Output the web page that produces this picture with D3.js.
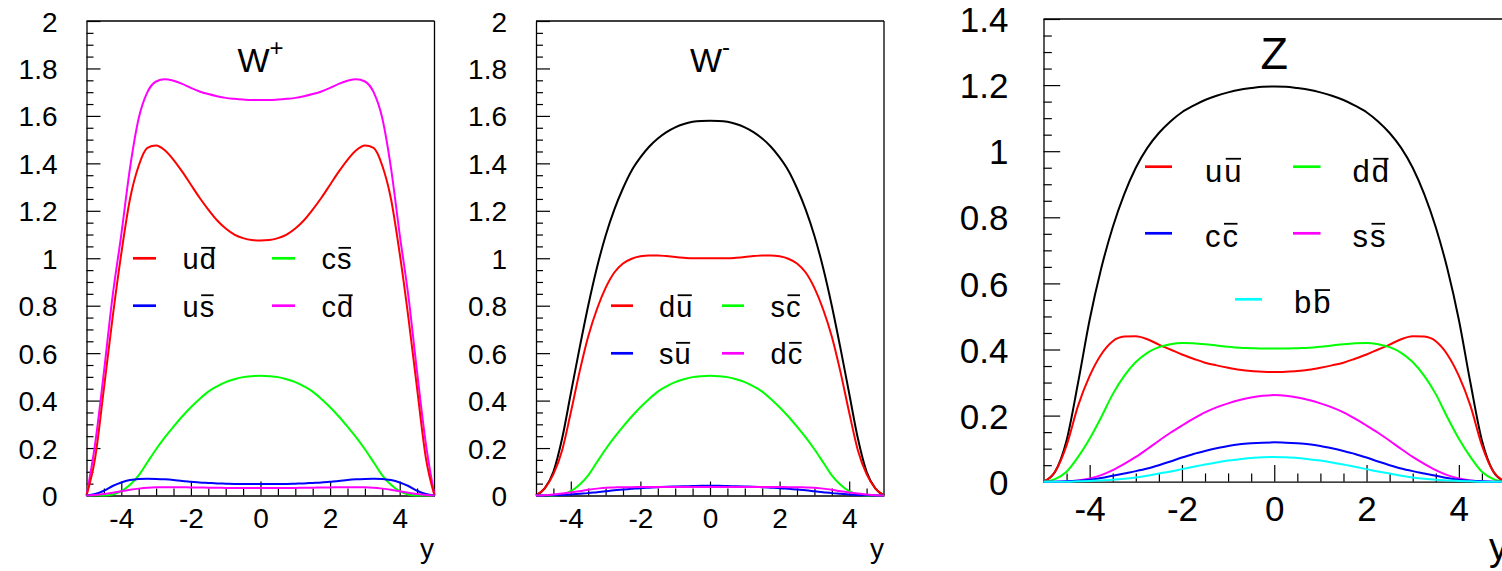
<!DOCTYPE html>
<html><head><meta charset="utf-8">
<script src="https://cdn.jsdelivr.net/npm/d3@7"></script>
<style>
body{margin:0;background:#fff}
svg{display:block}
text{font-family:"Liberation Sans",Arial,Helvetica,sans-serif;fill:#000}
</style>
</head><body>
<svg id="c" width="1502" height="571"></svg>
<script>
// rapidity grid (shared by all series)
const rapidity = [-5,-4.75,-4.5,-4.25,-4,-3.75,-3.5,-3.25,-3,-2.75,-2.5,-2.25,-2,-1.75,-1.5,-1.25,-1,-0.75,-0.5,-0.25,0,
                  0.25,0.5,0.75,1,1.25,1.5,1.75,2,2.25,2.5,2.75,3,3.25,3.5,3.75,4,4.25,4.5,4.75,5];
const xTickLabels = [-4,-2,0,2,4];

// ---- W+ ----
const wpTotal = [0,0.22,0.52,0.84,1.10,1.38,1.59,1.70,1.745,1.755,1.748,1.735,1.718,1.703,1.692,1.683,1.676,1.672,1.669,1.667,1.667,
                 1.667,1.669,1.672,1.676,1.683,1.692,1.703,1.718,1.735,1.748,1.755,1.745,1.70,1.59,1.38,1.10,0.84,0.52,0.22,0];
const wpUD    = [0,0.16,0.45,0.75,1.02,1.25,1.39,1.465,1.475,1.455,1.415,1.365,1.31,1.255,1.205,1.16,1.125,1.10,1.085,1.077,1.075,
                 1.077,1.085,1.10,1.125,1.16,1.205,1.255,1.31,1.365,1.415,1.455,1.475,1.465,1.39,1.25,1.02,0.75,0.45,0.16,0];
const wpCS    = [0,0,0,0.004,0.018,0.045,0.085,0.14,0.195,0.245,0.29,0.333,0.372,0.407,0.438,0.46,0.478,0.49,0.499,0.503,0.505,
                 0.503,0.499,0.49,0.478,0.46,0.438,0.407,0.372,0.333,0.29,0.245,0.195,0.14,0.085,0.045,0.018,0.004,0,0,0];
const wpUS    = [0,0.006,0.02,0.04,0.055,0.065,0.07,0.071,0.07,0.068,0.065,0.061,0.058,0.055,0.053,0.051,0.05,0.049,0.049,0.048,0.048,
                 0.048,0.049,0.049,0.05,0.051,0.053,0.055,0.058,0.061,0.065,0.068,0.07,0.071,0.07,0.065,0.055,0.04,0.02,0.006,0];
const wpCD    = [0,0.002,0.006,0.012,0.018,0.024,0.029,0.033,0.035,0.035,0.035,0.035,0.034,0.034,0.033,0.033,0.032,0.032,0.032,0.032,0.032,
                 0.032,0.032,0.032,0.032,0.033,0.033,0.034,0.034,0.035,0.035,0.035,0.035,0.033,0.029,0.024,0.018,0.012,0.006,0.002,0];
const wpYTicks = [0,0.2,0.4,0.6,0.8,1,1.2,1.4,1.6,1.8,2];
const wpLegend = ["ud","cs","us","cd"]; // second letter carries a bar

// ---- W- ----
const wmTotal = [0,0.03,0.10,0.24,0.43,0.62,0.80,0.96,1.095,1.205,1.295,1.37,1.425,1.47,1.505,1.532,1.552,1.566,1.575,1.579,1.58,
                 1.579,1.575,1.566,1.552,1.532,1.505,1.47,1.425,1.37,1.295,1.205,1.095,0.96,0.80,0.62,0.43,0.24,0.10,0.03,0];
const wmDU    = [0,0.03,0.09,0.19,0.35,0.52,0.67,0.785,0.875,0.94,0.978,0.998,1.008,1.012,1.012,1.009,1.005,1.002,1.0,1.0,1.0,
                 1.0,1.0,1.002,1.005,1.009,1.012,1.012,1.008,0.998,0.978,0.94,0.875,0.785,0.67,0.52,0.35,0.19,0.09,0.03,0];
const wmSC    = [0,0,0,0.004,0.018,0.045,0.085,0.14,0.195,0.245,0.29,0.333,0.372,0.407,0.438,0.46,0.478,0.49,0.499,0.503,0.505,
                 0.503,0.499,0.49,0.478,0.46,0.438,0.407,0.372,0.333,0.29,0.245,0.195,0.14,0.085,0.045,0.018,0.004,0,0,0];
const wmSU    = [0,0,0.001,0.002,0.004,0.007,0.01,0.014,0.018,0.022,0.025,0.028,0.031,0.033,0.035,0.037,0.038,0.039,0.040,0.041,0.041,
                 0.041,0.040,0.039,0.038,0.037,0.035,0.033,0.031,0.028,0.025,0.022,0.018,0.014,0.01,0.007,0.004,0.002,0.001,0,0];
const wmDC    = [0,0.001,0.004,0.008,0.013,0.018,0.024,0.029,0.033,0.034,0.035,0.035,0.036,0.036,0.036,0.036,0.036,0.036,0.036,0.036,0.036,
                 0.036,0.036,0.036,0.036,0.036,0.036,0.036,0.036,0.035,0.035,0.034,0.033,0.029,0.024,0.018,0.013,0.008,0.004,0.001,0];
const wmYTicks = [0,0.2,0.4,0.6,0.8,1,1.2,1.4,1.6,1.8,2];
const wmLegend = ["du","sc","su","dc"];

// ---- Z ----
const zTotal = [0,0.03,0.125,0.30,0.49,0.645,0.77,0.87,0.95,1.01,1.055,1.09,1.118,1.138,1.155,1.168,1.178,1.186,1.191,1.195,1.196,
                1.195,1.191,1.186,1.178,1.168,1.155,1.138,1.118,1.09,1.055,1.01,0.95,0.87,0.77,0.645,0.49,0.30,0.125,0.03,0];
const zUU = [0,0.03,0.11,0.23,0.32,0.385,0.425,0.439,0.44,0.431,0.415,0.40,0.385,0.372,0.36,0.352,0.345,0.339,0.335,0.333,0.332,
             0.333,0.335,0.339,0.345,0.352,0.36,0.372,0.385,0.40,0.415,0.431,0.44,0.439,0.425,0.385,0.32,0.23,0.11,0.03,0];
const zDD = [0,0.008,0.03,0.075,0.13,0.195,0.265,0.32,0.362,0.39,0.407,0.416,0.42,0.419,0.416,0.412,0.408,0.405,0.404,0.403,0.403,
             0.403,0.404,0.405,0.408,0.412,0.416,0.419,0.42,0.416,0.407,0.39,0.362,0.32,0.265,0.195,0.13,0.075,0.03,0.008,0];
const zSS = [0,0,0.001,0.004,0.01,0.02,0.035,0.054,0.075,0.099,0.124,0.148,0.17,0.191,0.21,0.225,0.237,0.247,0.255,0.26,0.262,
             0.26,0.255,0.247,0.237,0.225,0.21,0.191,0.17,0.148,0.124,0.099,0.075,0.054,0.035,0.02,0.01,0.004,0.001,0,0];
const zCC = [0,0,0.001,0.003,0.006,0.011,0.018,0.025,0.032,0.04,0.05,0.061,0.073,0.084,0.093,0.101,0.108,0.113,0.116,0.118,0.119,
             0.118,0.116,0.113,0.108,0.101,0.093,0.084,0.073,0.061,0.05,0.04,0.032,0.025,0.018,0.011,0.006,0.003,0.001,0,0];
const zBB = [0,0,0,0.001,0.002,0.004,0.006,0.009,0.013,0.018,0.025,0.031,0.038,0.045,0.052,0.058,0.064,0.068,0.072,0.074,0.075,
             0.074,0.072,0.068,0.064,0.058,0.052,0.045,0.038,0.031,0.025,0.018,0.013,0.009,0.006,0.004,0.002,0.001,0,0,0];
const zYTicks = [0,0.2,0.4,0.6,0.8,1,1.2,1.4];
const zLegend = ["uu","dd","cc","ss","bb"];

const RED="#ff0000", GREEN="#00ff00", BLUE="#0000ff", MAG="#ff00ff", CYAN="#00ffff", BLACK="#000000";

const svg = d3.select("#c");

function drawPanel(p){
  const g = svg.append("g");
  const x = d3.scaleLinear().domain([-5,5]).range([p.x0,p.x1]);
  const y = d3.scaleLinear().domain([0,p.ymax]).range([p.y0,p.y1]);

  // frame (top, right)
  g.append("line").attr("x1",p.x0).attr("x2",p.x1).attr("y1",p.y1).attr("y2",p.y1).attr("stroke","#000").attr("stroke-width",1.3);
  g.append("line").attr("x1",p.x1).attr("x2",p.x1).attr("y1",p.y1).attr("y2",p.y0).attr("stroke","#000").attr("stroke-width",1.3);

  // minor ticks
  const ymin = d3.range(0, p.ymax+1e-9, 0.05).filter(v=>Math.abs(Math.round(v*5)-v*5)>1e-6);
  g.append("g").attr("transform",`translate(${p.x0},0)`)
    .call(d3.axisLeft(y).tickValues(ymin).tickSizeInner(-p.minor).tickSizeOuter(0).tickFormat(""))
    .call(a=>a.select(".domain").remove());
  const xmin = [-4.5,-3.5,-3,-2.5,-1.5,-1,-0.5,0.5,1,1.5,2.5,3,3.5,4.5];
  g.append("g").attr("transform",`translate(0,${p.y0})`)
    .call(d3.axisBottom(x).tickValues(xmin).tickSizeInner(-p.minor).tickSizeOuter(0).tickFormat(""))
    .call(a=>a.select(".domain").remove());

  // major axes
  const ya = g.append("g").attr("transform",`translate(${p.x0},0)`)
    .call(d3.axisLeft(y).tickValues(p.yTicks).tickSizeInner(-p.major).tickSizeOuter(0).tickPadding(p.ypad)
      .tickFormat(d=>String(+d.toFixed(1))));
  ya.attr("font-family",null).attr("font-size",p.fs);
  ya.selectAll("text").attr("font-size",p.fs).attr("dy","0.36em");
  const xa = g.append("g").attr("transform",`translate(0,${p.y0})`)
    .call(d3.axisBottom(x).tickValues(xTickLabels).tickSizeInner(-p.major).tickSizeOuter(0).tickPadding(p.xpad)
      .tickFormat(d=>String(d)));
  xa.attr("font-family",null).attr("font-size",p.fs);
  xa.selectAll("text").attr("font-size",p.fs).attr("dy","0.71em");
  g.selectAll(".domain").attr("stroke","#000").attr("stroke-width",1.3);
  g.selectAll(".tick line").attr("stroke","#000").attr("stroke-width",1.2);

  // curves
  const line = d3.line().x((d,i)=>x(rapidity[i])).y(d=>y(d)).curve(d3.curveMonotoneX);
  p.series.forEach(s=>{
    g.append("path").datum(s.v).attr("d",line).attr("fill","none")
      .attr("stroke",s.c).attr("stroke-width",2).attr("stroke-linejoin","round");
  });

  // title
  const t = g.append("text").attr("x",x(0)).attr("y",p.titleY).attr("text-anchor","middle").attr("font-size",p.titleFs);
  t.append("tspan").text(p.title);
  if(p.sup){ t.append("tspan").attr("font-size",p.supFs).attr("dy",p.supDy).text(p.sup); }

  // axis title
  g.append("text").attr("x",p.axisTitleX).attr("y",p.axisTitleY).attr("text-anchor","end").attr("font-size",p.axisTitleFs).text("y");

  // legend
  p.legend.forEach(L=>{
    g.append("line").attr("x1",L.lx0).attr("x2",L.lx1).attr("y1",L.ly).attr("y2",L.ly).attr("stroke",L.c).attr("stroke-width",2.7);
    const tx = g.append("text").attr("x",L.tx).attr("y",L.ly+L.bo).attr("font-size",p.legFs);
    tx.append("tspan").text(L.label[0]);
    tx.append("tspan").attr("dx",p.legGap).text(L.label[1]);
    const n = tx.node();
    const s0 = n.getStartPositionOfChar(1).x, e0 = n.getEndPositionOfChar(1).x;
    const by = L.ly + L.bo - 0.74*p.legFs;
    g.append("line").attr("x1",s0+1.5).attr("x2",e0-0.5).attr("y1",by).attr("y2",by).attr("stroke","#000").attr("stroke-width",1.8);
  });
}

drawPanel({
  x0:86.5,x1:434.5,y0:495.5,y1:21,ymax:2,yTicks:wpYTicks,fs:28,ypad:29,xpad:12.5,major:14,minor:7,
  title:"W",sup:"+",titleFs:34,supFs:24,supDy:-16,titleY:72,axisTitleX:434,axisTitleY:558,axisTitleFs:28,
  legFs:29,legGap:1,
  series:[{v:wpTotal,c:MAG},{v:wpUD,c:RED},{v:wpCS,c:GREEN},{v:wpUS,c:BLUE},{v:wpCD,c:MAG}],
  legend:[
    {label:wpLegend[0],c:RED,  lx0:133,lx1:156,ly:258.3,tx:182.5,bo:11},
    {label:wpLegend[1],c:GREEN,lx0:272,lx1:295,ly:258.3,tx:321.5,bo:11},
    {label:wpLegend[2],c:BLUE, lx0:133,lx1:156,ly:305.7,tx:182.5,bo:11},
    {label:wpLegend[3],c:MAG,  lx0:272,lx1:295,ly:305.7,tx:321.5,bo:11}]
});

drawPanel({
  x0:536,x1:884,y0:495.5,y1:21,ymax:2,yTicks:wmYTicks,fs:28,ypad:29,xpad:12.5,major:14,minor:7,
  title:"W",sup:"-",titleFs:34,supFs:24,supDy:-17,titleY:72,axisTitleX:884,axisTitleY:558,axisTitleFs:28,
  legFs:29,legGap:1,
  series:[{v:wmTotal,c:BLACK},{v:wmDU,c:RED},{v:wmSC,c:GREEN},{v:wmSU,c:BLUE},{v:wmDC,c:MAG}],
  legend:[
    {label:wmLegend[0],c:RED,  lx0:611,lx1:633,ly:305.7,tx:659,bo:11},
    {label:wmLegend[1],c:GREEN,lx0:722,lx1:744,ly:305.7,tx:770.5,bo:11},
    {label:wmLegend[2],c:BLUE, lx0:611,lx1:633,ly:353.3,tx:659,bo:11},
    {label:wmLegend[3],c:MAG,  lx0:722,lx1:744,ly:353.3,tx:770.5,bo:11}]
});

drawPanel({
  x0:1043.5,x1:1505,y0:481.7,y1:19,ymax:1.4,yTicks:zYTicks,fs:35,ypad:35,xpad:14.5,major:16.7,minor:8.3,
  title:"Z",sup:null,titleFs:45,titleY:68.5,axisTitleX:1508,axisTitleY:560,axisTitleFs:38,
  legFs:31,legGap:2,
  series:[{v:zTotal,c:BLACK},{v:zUU,c:RED},{v:zDD,c:GREEN},{v:zSS,c:MAG},{v:zCC,c:BLUE},{v:zBB,c:CYAN}],
  legend:[
    {label:zLegend[0],c:RED,  lx0:1145,lx1:1172,ly:166.7,tx:1205,bo:15},
    {label:zLegend[1],c:GREEN,lx0:1293,lx1:1320.5,ly:166.7,tx:1352.5,bo:15},
    {label:zLegend[2],c:BLUE, lx0:1145,lx1:1172,ly:233.3,tx:1205,bo:13.4},
    {label:zLegend[3],c:MAG,  lx0:1293,lx1:1320.5,ly:233.3,tx:1352.5,bo:13.4},
    {label:zLegend[4],c:CYAN, lx0:1235,lx1:1262,ly:299.3,tx:1294,bo:13.7}]
});
</script>
</body></html>
